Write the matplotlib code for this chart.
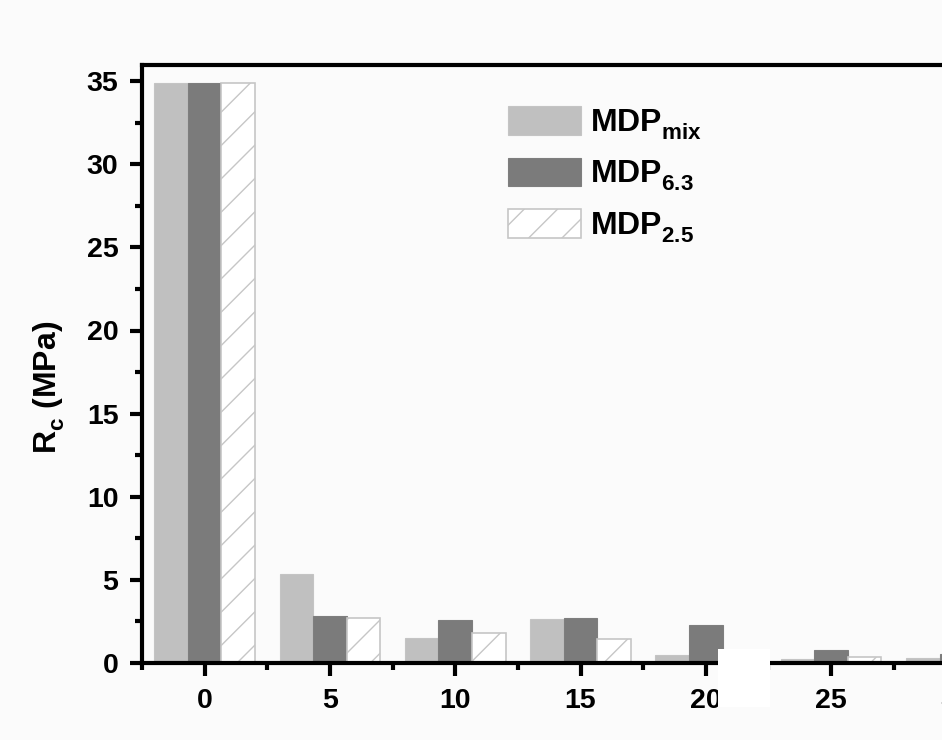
import numpy as np
import matplotlib
matplotlib.use("Agg")
import matplotlib.pyplot as plt
import matplotlib._mathtext as mathtext_internal
from matplotlib.patches import Rectangle
from matplotlib.ticker import MultipleLocator

plt.rcParams['font.family'] = ['Liberation Sans', 'DejaVu Sans']
plt.rcParams['font.weight'] = 'bold'
plt.rcParams['mathtext.fontset'] = 'custom'
plt.rcParams['mathtext.rm'] = 'Liberation Sans:bold'
plt.rcParams['mathtext.bf'] = 'Liberation Sans:bold'
plt.rcParams['mathtext.it'] = 'Liberation Sans:bold'
plt.rcParams['mathtext.default'] = 'bf'
plt.rcParams['hatch.linewidth'] = 1.0
# subscripts sit a bit lower in the original
mathtext_internal.FontConstantsBase.sub1 = 0.5

# data
times = [0, 5, 10, 15, 20, 25, 30]
mdp_mix = [34.9, 5.36, 1.51, 2.65, 0.46, 0.24, 0.32]
mdp_63 = [34.9, 2.83, 2.57, 2.69, 2.29, 0.78, 0.54]
mdp_25 = [34.9, 2.71, 1.81, 1.43, 0.35, 0.34, 0.3]
labels = [r'$MDP_{mix}$', r'$MDP_{6.3}$', r'$MDP_{2.5}$']

W, H = 942, 740
fig = plt.figure(figsize=(W / 100, H / 100), dpi=100, facecolor='#fbfbfb')
ax = fig.add_axes([142 / W, 1 - 663 / H, (1019 - 142) / W, (663 - 64.5) / H])
ax.set_facecolor('#fbfbfb')

x = np.array(times, dtype=float)
bw = 1.34
ax.bar(x - bw, mdp_mix, bw, color='#c0c0c0', edgecolor='#c4c4c4', lw=0.8,
       label=labels[0])
ax.bar(x, mdp_63, bw, color='#7b7b7b', edgecolor='#7e7e7e', lw=0.8,
       label=labels[1])
ax.bar(x + bw, mdp_25, bw, color='white', edgecolor='#c6c6c6', lw=1.2,
       hatch='/', label=labels[2])

ax.set_xlim(-2.5, 32.5)
ax.set_ylim(0, 36)
ax.xaxis.set_major_locator(MultipleLocator(5))
ax.xaxis.set_minor_locator(MultipleLocator(2.5))
ax.yaxis.set_major_locator(MultipleLocator(5))
ax.yaxis.set_minor_locator(MultipleLocator(2.5))
ax.tick_params(which='major', direction='out', length=9, width=3, labelsize=20.5)
ax.tick_params(which='minor', direction='out', length=5, width=3)
ax.tick_params(axis='x', which='major', pad=9)
ax.tick_params(axis='y', which='major', pad=8)
for lab in ax.get_xticklabels() + ax.get_yticklabels():
    lab.set_fontweight('bold')
for sp in ax.spines.values():
    sp.set_linewidth(3)

ax.set_ylabel(r'$R_c$ (MPa)', fontsize=23, fontweight='bold')
ax.yaxis.set_label_coords(-0.085, 0.46)

ax.legend(loc='upper left', bbox_to_anchor=(508 / W, 1 - 106 / H),
          bbox_transform=fig.transFigure, frameon=False, fontsize=23,
          handlelength=2.28, handleheight=1.0, handletextpad=0.3,
          labelspacing=0.5, borderpad=0, borderaxespad=0)

# white patch covering part of the axis in the source image
fig.patches.append(Rectangle((718 / W, 1 - 707 / H), 52 / W, 58 / H,
                             transform=fig.transFigure, facecolor='white',
                             edgecolor='none', zorder=10))

fig.savefig('out.png', dpi=100, facecolor=fig.get_facecolor())
